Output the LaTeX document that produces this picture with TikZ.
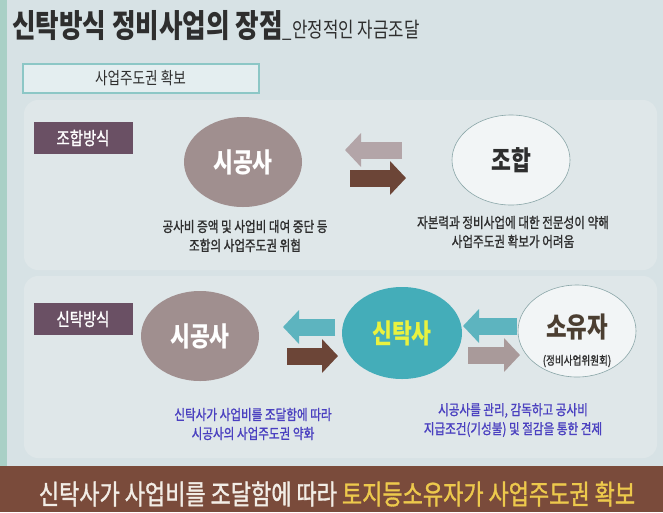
\documentclass[tikz,border=0pt]{standalone}
\usepackage{fontspec}
\setmainfont[FakeStretch=0.8]{Noto Sans CJK KR}
\newfontfamily\krmed[FakeStretch=0.8,FakeBold=1.2]{Noto Sans CJK KR}
\usetikzlibrary{arrows.meta,shapes.geometric}
\definecolor{bgc}{HTML}{D7E2E5}
\definecolor{panelc}{HTML}{DFE7E9}
\definecolor{stripec}{HTML}{A9D0C6}
\definecolor{boxfill}{HTML}{E4EEF0}
\definecolor{boxline}{HTML}{8CC7C6}
\definecolor{labelc}{HTML}{6A5064}
\definecolor{sigongc}{HTML}{A08F8F}
\definecolor{tealc}{HTML}{44ADB9}
\definecolor{yellowt}{HTML}{E9F23F}
\definecolor{agray}{HTML}{B3A5A8}
\definecolor{abrown}{HTML}{6C4537}
\definecolor{ateal}{HTML}{5DB4BF}
\definecolor{apink}{HTML}{A99A9A}
\definecolor{bluet}{HTML}{4A40C0}
\definecolor{barc}{HTML}{7A4B3B}
\definecolor{barw}{HTML}{F2EDE6}
\definecolor{bary}{HTML}{EDC94C}
\definecolor{darkt}{HTML}{2E2E2E}
\definecolor{ringc}{HTML}{8AA6A8}
\begin{document}
\begin{tikzpicture}[x=1pt,y=-1pt,
  modelabel/.style={fill=labelc,text=white,minimum width=99pt,minimum height=32pt,inner sep=0pt,font=\krmed\fontsize{18}{18}\selectfont},
  bubble/.style={ellipse,minimum width=118pt,minimum height=90pt,inner sep=0pt},
  bubtext/.style={font=\bfseries\fontsize{27}{27}\selectfont},
  note/.style={align=center,font=\krmed\fontsize{14.5}{19}\selectfont,inner sep=0pt},
  blockarrow/.style={line width=17pt,draw=#1,-{Triangle[length=16pt,width=33pt,fill=#1]}}
]
\useasboundingbox (0,0) rectangle (663,512);
\fill[bgc] (0,0) rectangle (663,512);
\fill[stripec] (0,0) rectangle (7,466);
\fill[panelc,rounded corners=14pt] (24,100) rectangle (657,270);
\fill[panelc,rounded corners=14pt] (24,276) rectangle (657,458);
\fill[barc] (0,466) rectangle (663,512);

% title
\node[anchor=base west,inner sep=0pt,text=darkt] (title) at (12,37)
  {{\bfseries\fontsize{32}{32}\selectfont 신탁방식 정비사업의 장점}{\fontsize{21}{21}\selectfont\_안정적인 자금조달}};

% box
\node[draw=boxline,line width=2pt,fill=boxfill,minimum width=236pt,minimum height=29pt,inner sep=0pt,
  font=\fontsize{17}{17}\selectfont,text=darkt] (lead) at (140.5,78) {사업주도권 확보};

% top row
\node[modelabel] (johap) at (83,138) {조합방식};
\node[bubble,fill=sigongc,text=white,bubtext] (sg1) at (243,162) {시공사};
\node[bubble,fill=white!60!panelc,draw=ringc,line width=0.6pt,text=darkt,bubtext] (jh) at (511,160) {조합};
\node[note,text=darkt] (t1) at (245,236) {공사비 증액 및 사업비 대여 중단 등\\조합의 사업주도권 위협};
\node[note,text=darkt] (t2) at (513,232) {자본력과 정비사업에 대한 전문성이 약해\\사업주도권 확보가 어려움};
\coordinate (a1s) at (402,150); \coordinate (a1e) at (345,150);
\coordinate (a2s) at (350,178); \coordinate (a2e) at (406,178);
\draw[blockarrow=agray] (a1s) -- (a1e);
\draw[blockarrow=abrown] (a2s) -- (a2e);

% bottom row
\node[modelabel] (sintak) at (83,319) {신탁방식};
\node[bubble,fill=sigongc,text=white,bubtext] (sg2) at (200,336) {시공사};
\node[bubble,fill=tealc,text=yellowt,bubtext,minimum width=120pt,minimum height=92pt] (st) at (402,333) {신탁사};
\node[bubble,fill=white!60!panelc,draw=ringc,line width=0.6pt,minimum height=92pt] (sy) at (577,331) {};
\node[text=darkt!80!brown,bubtext,font=\bfseries\fontsize{28}{28}\selectfont] (syt) at (577,327) {소유자};
\node[text=darkt,font=\krmed\fontsize{12}{12}\selectfont] (sys) at (577,361) {(정비사업위원회)};
\node[note,text=bluet] (t3) at (253,424) {신탁사가 사업비를 조달함에 따라\\시공사의 사업주도권 약화};
\node[note,text=bluet] (t4) at (513,420) {시공사를 관리, 감독하고 공사비\\지급조건(기성불) 및 절감을 통한 견제};
\coordinate (b1s) at (335,327); \coordinate (b1e) at (283,327);
\coordinate (b2s) at (287,356); \coordinate (b2e) at (338,356);
\coordinate (b3s) at (517,326); \coordinate (b3e) at (463,326);
\coordinate (b4s) at (468,355); \coordinate (b4e) at (520,355);
\draw[blockarrow=ateal] (b1s) -- (b1e);
\draw[blockarrow=abrown] (b2s) -- (b2e);
\draw[blockarrow=ateal] (b3s) -- (b3e);
\draw[blockarrow=apink] (b4s) -- (b4e);

% bottom bar
\node[inner sep=0pt,font=\krmed\fontsize{27.5}{27.5}\selectfont] (bar) at (337,494)
  {\textcolor{barw}{신탁사가 사업비를 조달함에 따라} \textcolor{bary}{토지등소유자가 사업주도권 확보}};
\end{tikzpicture}
\end{document}
